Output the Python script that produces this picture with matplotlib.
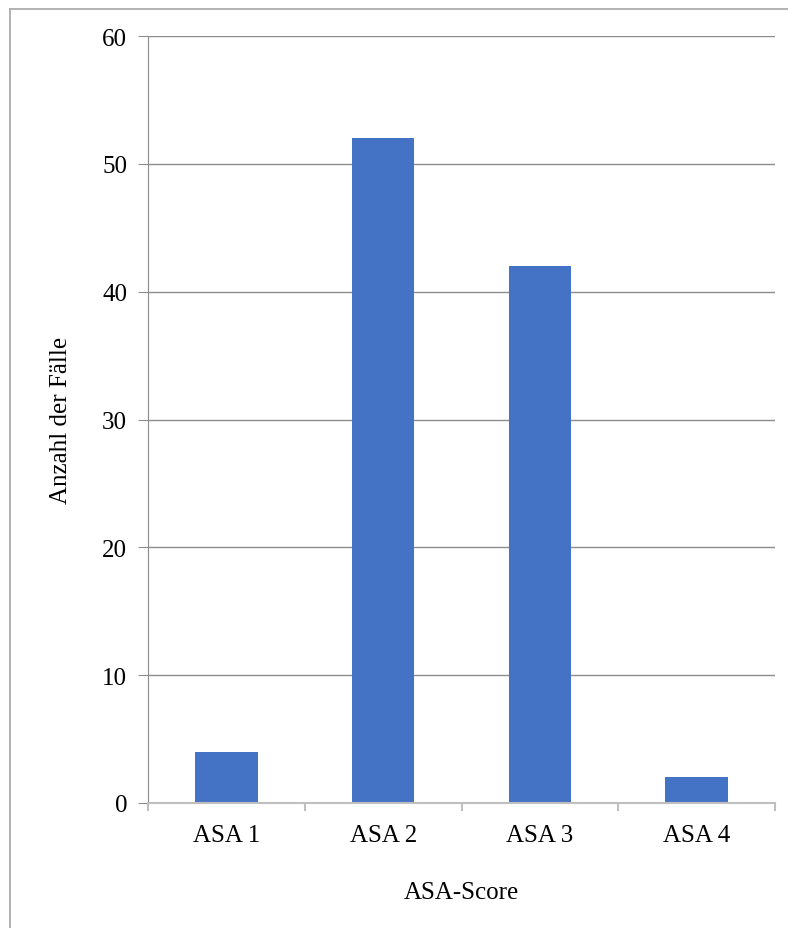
import matplotlib
matplotlib.use("Agg")
import matplotlib.pyplot as plt
from matplotlib.lines import Line2D
from matplotlib.ticker import FixedLocator

categories = ["ASA 1", "ASA 2", "ASA 3", "ASA 4"]
counts = [4, 52, 42, 2]
y_ticks = [0, 10, 20, 30, 40, 50, 60]

plt.rcParams["font.family"] = ["Liberation Serif", "DejaVu Serif"]

W, H = 788, 929
fig = plt.figure(figsize=(W / 100, H / 100), dpi=100)

# outer chart frame (left and top edges)
fig.add_artist(Line2D([10 / W, 10 / W], [0, 1 - 10 / H], color="#a6a6a6", lw=1.2))
fig.add_artist(Line2D([10 / W, 1], [1 - 10 / H, 1 - 10 / H], color="#a6a6a6", lw=1.2))

left, right, top, bottom = 148, 775, 37, 804
ax = fig.add_axes([left / W, 1 - bottom / H, (right - left) / W, (bottom - top) / H])

x = list(range(len(categories)))
ax.bar(x, counts, width=0.40, color="#4472C4", zorder=3)

ax.set_xlim(-0.5, len(categories) - 0.5)
ax.set_ylim(0, 60)
ax.set_yticks(y_ticks)
ax.set_xticks(x)
ax.set_xticklabels(categories)
ax.xaxis.set_minor_locator(FixedLocator([i - 0.5 for i in range(len(categories) + 1)]))

ax.grid(axis="y", color="#8c8c8c", lw=1.0, zorder=0)
ax.set_axisbelow(True)

for s in ["top", "right"]:
    ax.spines[s].set_visible(False)
ax.spines["left"].set_color("#8c8c8c")
ax.spines["bottom"].set_color("#bfbfbf")
ax.spines["bottom"].set_linewidth(1.5)
ax.spines["bottom"].set_zorder(4)

ax.tick_params(axis="y", length=7, color="#8c8c8c", labelsize=18, pad=8)
ax.tick_params(axis="x", which="major", length=0, labelsize=18, pad=15)
ax.tick_params(axis="x", which="minor", length=6, color="#bfbfbf", width=1.5)

ax.set_ylabel("Anzahl der Fälle", fontsize=18, labelpad=22)
ax.set_xlabel("ASA-Score", fontsize=18, labelpad=25)

fig.savefig("out.png", dpi=100)
